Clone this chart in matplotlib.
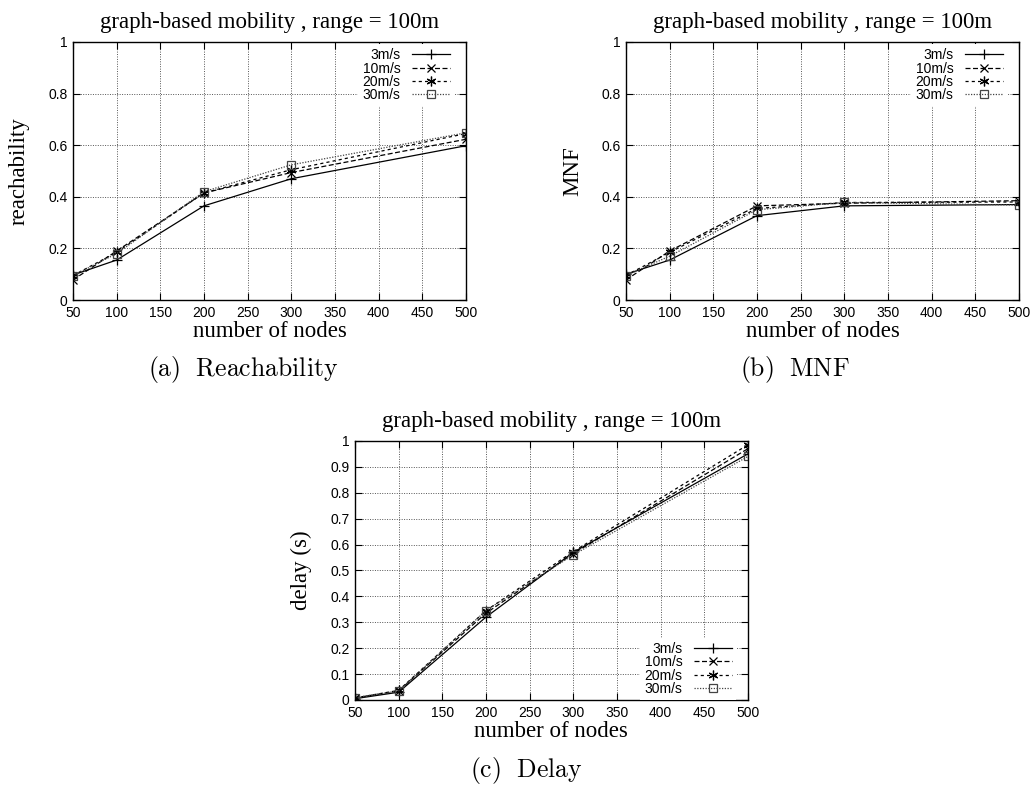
import matplotlib
matplotlib.use('Agg')
import matplotlib.pyplot as plt
from matplotlib.ticker import FuncFormatter

plt.rcParams['mathtext.fontset'] = 'cm'

nodes = [50, 100, 200, 300, 500]
speeds = ['3m/s', '10m/s', '20m/s', '30m/s']

reach_3 = [0.097, 0.155, 0.365, 0.47, 0.598]
reach_10 = [0.078, 0.19, 0.415, 0.494, 0.623]
reach_20 = [0.095, 0.185, 0.415, 0.505, 0.645]
reach_30 = [0.095, 0.18, 0.42, 0.524, 0.648]

mnf_3 = [0.1, 0.155, 0.327, 0.365, 0.37]
mnf_10 = [0.078, 0.19, 0.365, 0.375, 0.385]
mnf_20 = [0.095, 0.185, 0.355, 0.378, 0.38]
mnf_30 = [0.095, 0.17, 0.35, 0.378, 0.368]

delay_3 = [0.005, 0.03, 0.32, 0.57, 0.95]
delay_10 = [0.008, 0.035, 0.335, 0.565, 0.97]
delay_20 = [0.008, 0.037, 0.345, 0.573, 0.985]
delay_30 = [0.008, 0.035, 0.345, 0.56, 0.94]

title = 'graph-based mobility , range = 100m'
xlabel = 'number of nodes'

# gnuplot-like styles per speed
styles = [
    dict(linestyle='-', marker='+', ms=7),
    dict(linestyle=(0, (4, 2)), marker='x', ms=6),
    dict(linestyle=(0, (2.5, 2.5)), marker=(6, 2, 0), ms=7),
    dict(linestyle=(0, (1, 1.2)), marker='s', ms=6, mfc='none'),
]

SERIF = 'Liberation Serif'
SANS = 'Liberation Sans'


def setup_axes(ax, ylabel, yticks, legend_loc, anchor):
    ax.set_xlim(50, 500)
    ax.set_xticks(range(50, 501, 50))
    ax.set_ylim(0, 1)
    ax.set_yticks(yticks)
    ax.yaxis.set_major_formatter(FuncFormatter(lambda v, p: '%g' % round(v, 2)))
    ax.tick_params(direction='in', top=True, right=True, length=5, width=0.8,
                   labelsize=10, pad=4)
    for lab in ax.get_xticklabels() + ax.get_yticklabels():
        lab.set_fontfamily(SANS)
    ax.grid(True, linestyle=(0, (1, 1.5)), color='#555555', linewidth=0.7)
    ax.set_axisbelow(True)
    for sp in ax.spines.values():
        sp.set_linewidth(1.0)
    ax.set_title(title, fontfamily=SERIF, fontsize=16.5, pad=10)
    ax.set_xlabel(xlabel, fontfamily=SERIF, fontsize=16.5, labelpad=1)
    ax.set_ylabel(ylabel, fontfamily=SERIF, fontsize=16.5, labelpad=13)
    leg = ax.legend(loc=legend_loc, bbox_to_anchor=anchor, markerfirst=False,
                    handlelength=2.7, handletextpad=0.85, labelspacing=-0.05,
                    borderpad=0.3, borderaxespad=0.0, fancybox=False,
                    framealpha=1, prop={'family': SANS, 'size': 10})
    leg.get_frame().set_edgecolor('none')


def draw(ax, series):
    for label, vals, st in zip(speeds, series, styles):
        color = '#444444' if label == '30m/s' else 'black'
        ax.plot(nodes, vals, color=color, lw=0.9, mew=0.9, label=label, **st)


fig = plt.figure(figsize=(10.34, 7.85), dpi=100)

ax_a = fig.add_axes([0.0706, 0.6178, 0.380, 0.3287])
draw(ax_a, [reach_3, reach_10, reach_20, reach_30])
setup_axes(ax_a, 'reachability', [0, 0.2, 0.4, 0.6, 0.8, 1.0],
           'upper right', (0.97, 0.992))

ax_b = fig.add_axes([0.6054, 0.6178, 0.380, 0.3287])
draw(ax_b, [mnf_3, mnf_10, mnf_20, mnf_30])
setup_axes(ax_b, 'MNF', [0, 0.2, 0.4, 0.6, 0.8, 1.0],
           'upper right', (0.97, 0.992))

ax_c = fig.add_axes([0.3433, 0.1083, 0.380, 0.330])
draw(ax_c, [delay_3, delay_10, delay_20, delay_30])
setup_axes(ax_c, 'delay (s)', [i / 10 for i in range(11)],
           'lower right', (0.97, 0.0))

fig.text(0.235, 0.521, r'$\mathrm{(a)\ \ Reachability}$', fontsize=18.5,
         ha='center', va='baseline')
fig.text(0.769, 0.521, r'$\mathrm{(b)\ \ MNF}$', fontsize=18.5,
         ha='center', va='baseline')
fig.text(0.509, 0.010, r'$\mathrm{(c)\ \ Delay}$', fontsize=18.5,
         ha='center', va='baseline')

fig.savefig('out.png', dpi=100)
